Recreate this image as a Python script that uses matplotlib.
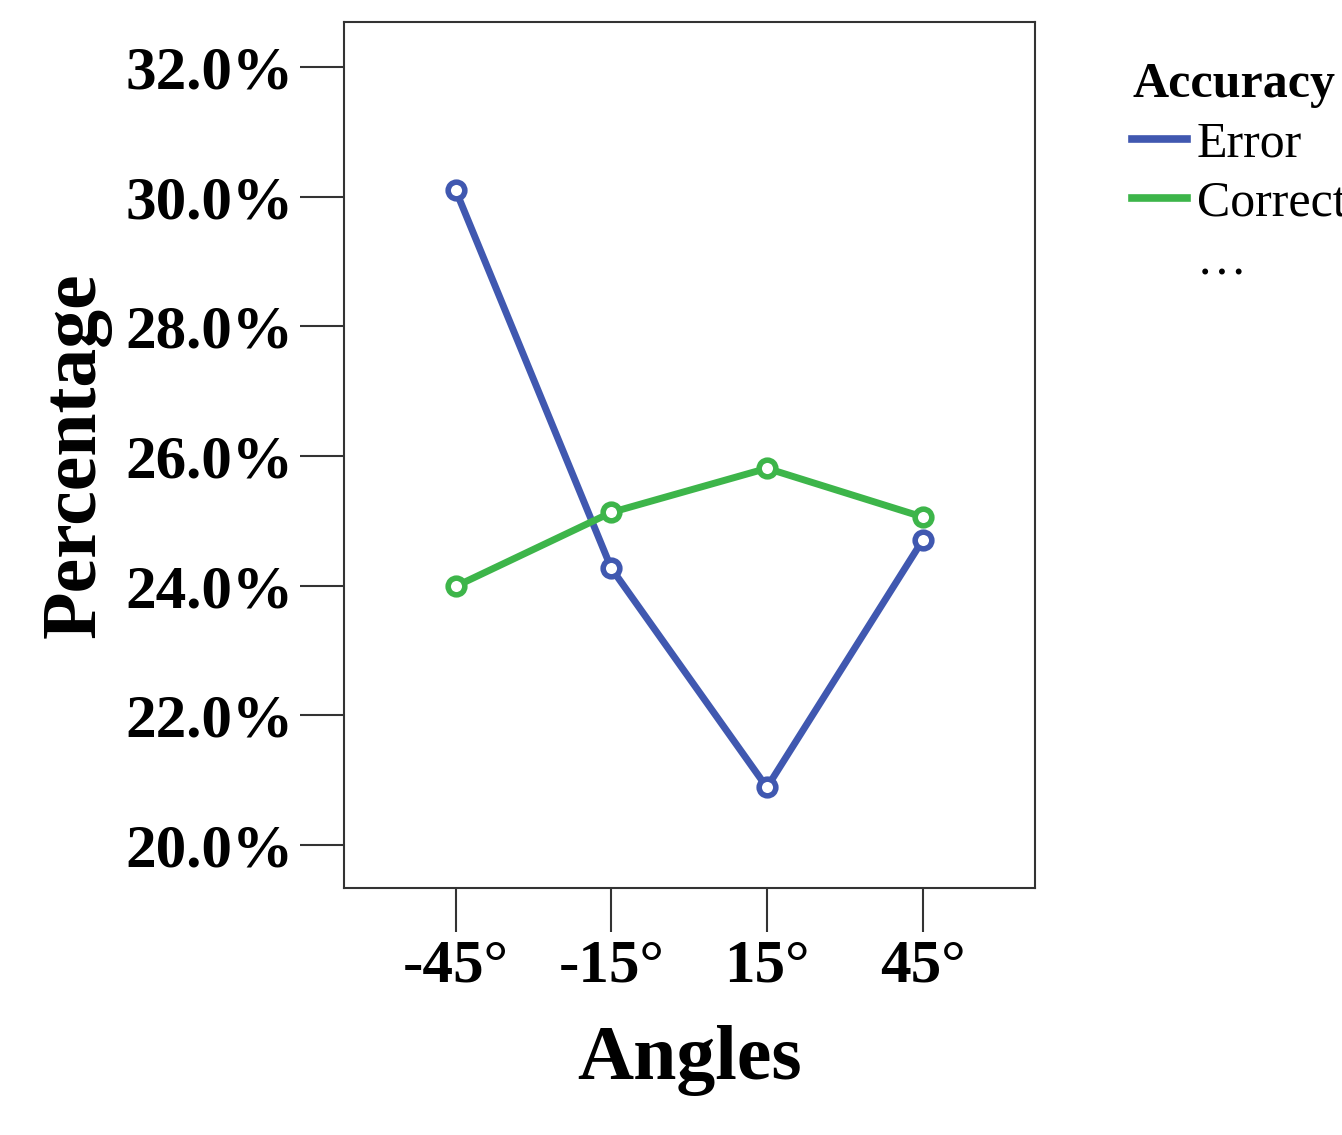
import matplotlib.pyplot as plt
from matplotlib.lines import Line2D

plt.rcParams['font.family'] = ['Liberation Serif', 'DejaVu Serif']

angles = ['-45°', '-15°', '15°', '45°']
error_pct = [30.10, 24.27, 20.89, 24.70]
correct_pct = [23.99, 25.13, 25.81, 25.06]
yticks = [20, 22, 24, 26, 28, 30, 32]

blue = '#4058B0'
green = '#3DB54A'

fig = plt.figure(figsize=(13.42, 11.35), dpi=100)
ax = fig.add_axes([0.256, 0.2176, 0.515, 0.763])

x = list(range(len(angles)))
ax.plot(x, error_pct, color=blue, lw=5, marker='o', ms=12, mfc='white',
        mec=blue, mew=4, zorder=3)
ax.plot(x, correct_pct, color=green, lw=5, marker='o', ms=12, mfc='white',
        mec=green, mew=4, zorder=3)

ax.set_xlim(-0.72, 3.72)
ax.set_ylim(19.34, 32.69)
ax.set_xticks(x)
ax.set_xticklabels(angles, fontsize=44, fontweight='bold')
ax.set_yticks(yticks)
ax.set_yticklabels([f'{v:.1f}%' for v in yticks], fontsize=44, fontweight='bold')
ax.tick_params(axis='both', length=32, width=1.5, color='#333333', pad=4)
for s in ax.spines.values():
    s.set_linewidth(1.5)
    s.set_color('#333333')

ax.set_xlabel('Angles', fontsize=56, fontweight='bold', labelpad=22)
ax.set_ylabel('Percentage', fontsize=56, fontweight='bold', labelpad=10)

handles = [Line2D([], [], color=blue, lw=5.5),
           Line2D([], [], color=green, lw=5.5),
           Line2D([], [], color='none')]
leg = fig.legend(handles, ['Error', 'Correct', '…'], loc='upper left',
                 bbox_to_anchor=(0.81, 0.985), frameon=False, fontsize=36,
                 title='Accuracy', handlelength=1.1, handletextpad=0.2,
                 labelspacing=0.25)
leg.get_title().set_fontsize(36)
leg.get_title().set_fontweight('bold')
leg._legend_box.align = 'left'

fig.savefig('out.png', dpi=100)
